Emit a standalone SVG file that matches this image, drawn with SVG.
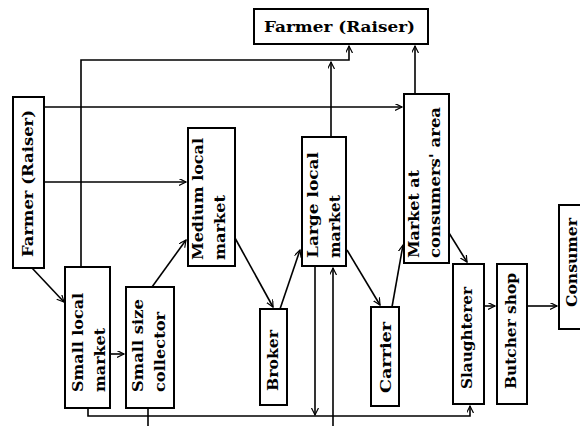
<svg xmlns="http://www.w3.org/2000/svg" width="580" height="426" viewBox="0 0 580 426">
<defs>
<style>
.box{fill:#fff;stroke:#000;stroke-width:2}
.t{font-family:"DejaVu Serif","Liberation Serif",serif;font-weight:bold;font-size:15px;fill:#000}
.c{fill:none;stroke:#000;stroke-width:1.6}
</style>
<marker id="arr" markerUnits="userSpaceOnUse" markerWidth="10" markerHeight="10" refX="7" refY="3.5" orient="auto">
<path d="M0,0 L7,3.5 L0,7" fill="none" stroke="#000" stroke-width="1.2"/>
</marker>
</defs>
<rect width="580" height="426" fill="#fff"/>
<g id="connectors">
<path class="c" d="M81 267 V60 H349 V46" marker-end="url(#arr)"/>
<path class="c" d="M331 137 V62" marker-end="url(#arr)"/>
<path class="c" d="M415 94 V46" marker-end="url(#arr)"/>
<path class="c" d="M44 107 H402" marker-end="url(#arr)"/>
<path class="c" d="M44 182 H186" marker-end="url(#arr)"/>
<path class="c" d="M32 268 L64 302" marker-end="url(#arr)"/>
<path class="c" d="M110 354 H124" marker-end="url(#arr)"/>
<path class="c" d="M152 287 L186 240" marker-end="url(#arr)"/>
<path class="c" d="M235 238 L273 307" marker-end="url(#arr)"/>
<path class="c" d="M280 309 L300 250" marker-end="url(#arr)"/>
<path class="c" d="M347 250 L380 305" marker-end="url(#arr)"/>
<path class="c" d="M392 307 L403 245" marker-end="url(#arr)"/>
<path class="c" d="M449 233 L467 262" marker-end="url(#arr)"/>
<path class="c" d="M484 306 H495" marker-end="url(#arr)"/>
<path class="c" d="M527 306 H557" marker-end="url(#arr)"/>
<path class="c" d="M88 408 V416 H470 V406" marker-end="url(#arr)"/>
<path class="c" d="M315 266 V415" marker-end="url(#arr)"/>
<path class="c" d="M333 426 V268" marker-end="url(#arr)"/>
<path class="c" d="M148 408 V426"/>
</g>
<g id="farmer-top">
<rect class="box" x="254" y="9" width="174" height="35"/>
<text class="t" x="264" y="32" textLength="151" lengthAdjust="spacingAndGlyphs">Farmer (Raiser)</text>
</g>
<g id="farmer-left">
<rect class="box" x="13" y="97" width="31" height="171"/>
<text class="t" transform="translate(33,257) rotate(-90)" textLength="147" lengthAdjust="spacingAndGlyphs">Farmer (Raiser)</text>
</g>
<g id="small-local-market">
<rect class="box" x="65" y="267" width="45" height="141"/>
<text class="t" transform="translate(83,392) rotate(-90)" textLength="99" lengthAdjust="spacingAndGlyphs">Small local</text>
<text class="t" transform="translate(105,392) rotate(-90)" textLength="64" lengthAdjust="spacingAndGlyphs">market</text>
</g>
<g id="small-size-collector">
<rect class="box" x="126" y="287" width="48" height="121"/>
<text class="t" transform="translate(143,392) rotate(-90)" textLength="93" lengthAdjust="spacingAndGlyphs">Small size</text>
<text class="t" transform="translate(165,392) rotate(-90)" textLength="80" lengthAdjust="spacingAndGlyphs">collector</text>
</g>
<g id="medium-local-market">
<rect class="box" x="188" y="128" width="47" height="138"/>
<text class="t" transform="translate(203,260) rotate(-90)" textLength="122" lengthAdjust="spacingAndGlyphs">Medium local</text>
<text class="t" transform="translate(225,260) rotate(-90)" textLength="65" lengthAdjust="spacingAndGlyphs">market</text>
</g>
<g id="broker">
<rect class="box" x="260" y="309" width="27" height="96"/>
<text class="t" transform="translate(278,391) rotate(-90)" textLength="61" lengthAdjust="spacingAndGlyphs">Broker</text>
</g>
<g id="large-local-market">
<rect class="box" x="302" y="137" width="44" height="129"/>
<text class="t" transform="translate(318,258) rotate(-90)" textLength="106" lengthAdjust="spacingAndGlyphs">Large local</text>
<text class="t" transform="translate(340,258) rotate(-90)" textLength="63" lengthAdjust="spacingAndGlyphs">market</text>
</g>
<g id="market-consumers-area">
<rect class="box" x="404" y="94" width="45" height="169"/>
<text class="t" transform="translate(419,258) rotate(-90)" textLength="88" lengthAdjust="spacingAndGlyphs">Market at</text>
<text class="t" transform="translate(440,258) rotate(-90)" textLength="151" lengthAdjust="spacingAndGlyphs">consumers' area</text>
</g>
<g id="carrier">
<rect class="box" x="371" y="307" width="28" height="99"/>
<text class="t" transform="translate(391,393) rotate(-90)" textLength="71" lengthAdjust="spacingAndGlyphs">Carrier</text>
</g>
<g id="slaughterer">
<rect class="box" x="453" y="264" width="31" height="140"/>
<text class="t" transform="translate(472,389) rotate(-90)" textLength="102" lengthAdjust="spacingAndGlyphs">Slaughterer</text>
</g>
<g id="butcher-shop">
<rect class="box" x="497" y="264" width="30" height="140"/>
<text class="t" transform="translate(516,389) rotate(-90)" textLength="116" lengthAdjust="spacingAndGlyphs">Butcher shop</text>
</g>
<g id="consumer">
<rect class="box" x="559" y="205" width="30" height="124"/>
<text class="t" transform="translate(577,307) rotate(-90)" textLength="89" lengthAdjust="spacingAndGlyphs">Consumer</text>
</g>
</svg>
